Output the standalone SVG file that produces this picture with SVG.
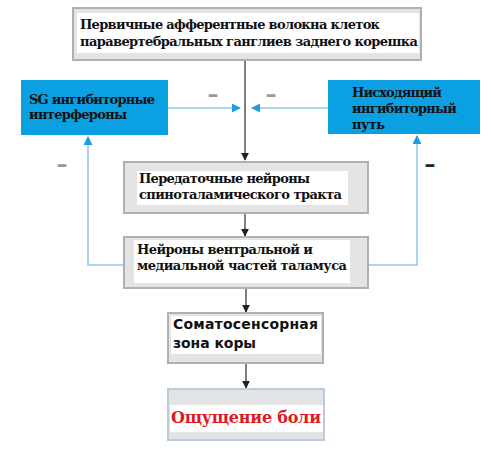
<svg xmlns="http://www.w3.org/2000/svg" width="491" height="459" viewBox="0 0 491 459">
<style>
.gbox{fill:#e4e4e4;stroke:#b0b0b0;stroke-width:2}
.bbox{fill:#0aa0e2;stroke:none}
.wh{fill:#ffffff}
.t{font-family:"DejaVu Serif","Liberation Serif",serif;font-weight:bold;font-size:13px;fill:#111}
.ts{font-family:"DejaVu Sans","Liberation Sans",sans-serif;font-weight:bold;font-size:14px;fill:#111}
.tr{font-family:"DejaVu Serif","Liberation Serif",serif;font-weight:bold;font-size:16px;fill:#e0191f}
.dk{stroke:#555;stroke-width:1.5;fill:none}
.bl{stroke:#8cc8ea;stroke-width:1.5;fill:none}
.minus{font-family:"DejaVu Sans",sans-serif;font-weight:bold;font-size:22px;fill:#999;text-anchor:middle}
</style>
<defs>
<marker id="ad" viewBox="0 0 10 10" refX="9" refY="5" markerWidth="8" markerHeight="8" markerUnits="userSpaceOnUse" orient="auto"><path d="M0,0 L10,5 L0,10 z" fill="#222"/></marker>
<marker id="ab" viewBox="0 0 10 10" refX="9" refY="5" markerWidth="9" markerHeight="9" markerUnits="userSpaceOnUse" orient="auto"><path d="M0,0 L10,5 L0,10 z" fill="#1a9ee0"/></marker>
</defs>
<rect width="491" height="459" fill="#fff"/>
<g id="connectors">
<line class="dk" x1="245" y1="60" x2="245" y2="160" marker-end="url(#ad)"/>
<line class="dk" x1="245" y1="213" x2="245" y2="236" marker-end="url(#ad)"/>
<line class="dk" x1="246" y1="288" x2="246" y2="312" marker-end="url(#ad)"/>
<line class="dk" x1="246" y1="363" x2="246" y2="388" marker-end="url(#ad)"/>
<line class="bl" x1="168" y1="108" x2="240" y2="108" marker-end="url(#ab)"/>
<line class="bl" x1="328" y1="108" x2="252" y2="108" marker-end="url(#ab)"/>
<polyline class="bl" points="124,265 88,265 88,137" marker-end="url(#ab)"/>
<polyline class="bl" points="368,265 417,265 417,136" marker-end="url(#ab)"/>
<text class="minus" x="213" y="102">–</text>
<text class="minus" x="271" y="102">–</text>
<text class="minus" x="62" y="172">–</text>
<text class="minus" x="430" y="172" style="fill:#222">–</text>
</g>
<g id="n1">
<rect class="gbox" x="73" y="8" width="348" height="52"/>
<rect class="wh" x="77" y="13" width="342" height="40"/>
<text class="t" x="80" y="29" textLength="300">Первичные афферентные волокна клеток</text>
<text class="t" x="80" y="46" textLength="338">паравертебральных ганглиев заднего корешка</text>
</g>
<g id="n2">
<rect class="bbox" x="21" y="80" width="147" height="55"/>
<text class="t" x="29" y="104" textLength="126">SG ингибиторные</text>
<text class="t" x="29" y="119" textLength="98">интерфероны</text>
</g>
<g id="n3">
<rect class="bbox" x="328" y="80" width="152" height="54"/>
<text class="t" x="352" y="97" textLength="90">Нисходящий</text>
<text class="t" x="352" y="113" textLength="105">ингибиторный</text>
<text class="t" x="352" y="129" textLength="33">путь</text>
</g>
<g id="n4">
<rect class="gbox" x="124" y="162" width="244" height="51"/>
<rect class="wh" x="137" y="171" width="211" height="34"/>
<text class="t" x="139" y="183" textLength="171">Передаточные нейроны</text>
<text class="t" x="139" y="199" textLength="203">спиноталамического тракта</text>
</g>
<g id="n5">
<rect class="gbox" x="124" y="237" width="244" height="51"/>
<rect class="wh" x="134" y="240" width="216" height="43"/>
<text class="t" x="137" y="254" textLength="176">Нейроны вентральной и</text>
<text class="t" x="137" y="270" textLength="210">медиальной частей таламуса</text>
</g>
<g id="n6">
<rect class="gbox" x="168" y="313" width="155" height="50"/>
<rect class="wh" x="171" y="316" width="150" height="38"/>
<text class="ts" x="173" y="329" textLength="145">Соматосенсорная</text>
<text class="ts" x="173" y="348" textLength="83">зона коры</text>
</g>
<g id="n7">
<rect x="168" y="389" width="156" height="51" fill="#e4e4e4" stroke="#bccbdb" stroke-width="2"/>
<rect class="wh" x="170" y="405" width="153" height="27"/>
<text class="tr" x="171" y="423" textLength="150">Ощущение боли</text>
</g>
</svg>
